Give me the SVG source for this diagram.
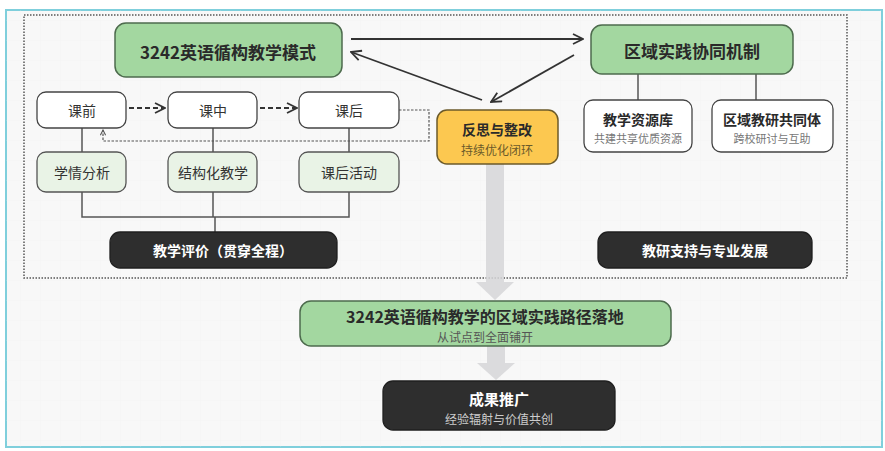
<svg xmlns="http://www.w3.org/2000/svg" width="885" height="451" viewBox="0 0 885 451">
<defs>
<pattern id="grid" width="20" height="20" patternUnits="userSpaceOnUse"><path d="M20 0H0V20" fill="none" stroke="#ececec" stroke-width="0.6"/></pattern>
<marker id="open" viewBox="0 0 12 12" refX="11" refY="6" markerWidth="12" markerHeight="12" markerUnits="userSpaceOnUse" orient="auto"><path d="M1 1L11 6L1 11" fill="none" stroke="#333" stroke-width="1.8"/></marker>
<marker id="small" viewBox="0 0 8 8" refX="7" refY="4" markerWidth="7" markerHeight="7" markerUnits="userSpaceOnUse" orient="auto"><path d="M1 1L7 4L1 7" fill="none" stroke="#555" stroke-width="1.2"/></marker>
</defs>
<style>
text{font-family:"Noto Sans CJK SC","Noto Sans",sans-serif;text-anchor:middle;dominant-baseline:central}
.green{fill:#a3d7a0;stroke:#4d6b4d;stroke-width:1.5}
.white{fill:#fff;stroke:#444;stroke-width:1.3}
.lg{fill:#e9f3e6;stroke:#555;stroke-width:1.3}
.dark{fill:#2e2e2e;stroke:#1f1f1f;stroke-width:1.3}
.yel{fill:#fcc850;stroke:#6b5a2a;stroke-width:1.5}
.t{font-size:14px;fill:#333}
.tb{font-size:14px;font-weight:bold;fill:#2a2a2a}
.tw{font-size:14px;font-weight:bold;fill:#fff}
.sub{font-size:11px;fill:#777}
.subw{font-size:12px;fill:#ccc}
.line{fill:none;stroke:#555;stroke-width:1.5}
.arr{fill:none;stroke:#333;stroke-width:1.8;marker-end:url(#open)}
</style>
<rect x="0" y="0" width="885" height="451" fill="#fff"/>
<rect x="6" y="10" width="876" height="437" fill="#f8f8f8" stroke="#7fcfdc" stroke-width="2"/>
<rect x="6" y="10" width="876" height="437" fill="url(#grid)" opacity="0.6"/>
<rect x="24" y="15" width="823" height="263" fill="none" stroke="#555" stroke-width="1.5" stroke-dasharray="1.5,1.5"/>

<g id="connectors">
<path d="M486 164V282H476L495 300L514 282H504V164Z" fill="#d6d6d8" opacity="0.85"/>
<path d="M487 346V363H477L496 380L515 363H505V346Z" fill="#d6d6d8" opacity="0.85"/>
<line x1="351" y1="39" x2="583" y2="39" class="arr"/>
<line x1="482" y1="100" x2="351" y2="52" class="arr"/>
<line x1="574" y1="55" x2="491" y2="102" class="arr"/>
<line x1="129" y1="108" x2="165" y2="108" class="arr" stroke-dasharray="5,3"/>
<line x1="260" y1="108" x2="297" y2="108" class="arr" stroke-dasharray="5,3"/>
<path d="M399 110H429V141H103V130" fill="none" stroke="#555" stroke-width="1.2" stroke-dasharray="2.5,1.5" marker-end="url(#small)"/>
<path d="M82 128V152M213 128V152M349 128V152" class="line"/>
<path d="M82 192V217H349V192M213 192V217M215 217V232" class="line"/>
<path d="M638 74V100M756 74V100" class="line"/>
</g>

<g id="n-model"><rect x="115" y="23" width="227" height="54" rx="11" class="green"/><text x="228" y="51" style="font-size:17px;font-weight:bold;fill:#2a2a2a">3242英语循构教学模式</text></g>
<g id="n-mech"><rect x="591" y="25" width="202" height="49" rx="11" class="green"/><text x="692" y="50" style="font-size:17px;font-weight:bold;fill:#2a2a2a">区域实践协同机制</text></g>
<g id="n-pre"><rect x="37" y="92" width="89" height="36" rx="9" class="white"/><text x="82" y="110" class="t">课前</text></g>
<g id="n-mid"><rect x="168" y="92" width="89" height="36" rx="9" class="white"/><text x="213" y="110" class="t">课中</text></g>
<g id="n-post"><rect x="299" y="92" width="100" height="36" rx="9" class="white"/><text x="349" y="110" class="t">课后</text></g>
<g id="n-analysis"><rect x="37" y="152" width="89" height="40" rx="9" class="lg"/><text x="82" y="172" class="t">学情分析</text></g>
<g id="n-struct"><rect x="168" y="152" width="89" height="40" rx="9" class="lg"/><text x="213" y="172" class="t">结构化教学</text></g>
<g id="n-act"><rect x="299" y="152" width="100" height="40" rx="9" class="lg"/><text x="349" y="172" class="t">课后活动</text></g>
<g id="n-eval"><rect x="110" y="232" width="227" height="36" rx="10" class="dark"/><text x="223" y="250" class="tw">教学评价（贯穿全程）</text></g>
<g id="n-reflect"><rect x="437" y="110" width="121" height="54" rx="10" class="yel"/><text x="497" y="129" class="tb">反思与整改</text><text x="497" y="149" class="sub" style="font-size:12px;fill:#6b5a2a">持续优化闭环</text></g>
<g id="n-res"><rect x="584" y="100" width="108" height="52" rx="9" class="white"/><text x="638" y="119" class="tb">教学资源库</text><text x="638" y="138" class="sub">共建共享优质资源</text></g>
<g id="n-comm"><rect x="712" y="100" width="121" height="52" rx="9" class="white"/><text x="772" y="119" class="tb">区域教研共同体</text><text x="772" y="138" class="sub">跨校研讨与互助</text></g>
<g id="n-support"><rect x="598" y="232" width="214" height="36" rx="10" class="dark"/><text x="705" y="250" class="tw">教研支持与专业发展</text></g>
<g id="n-land"><rect x="300" y="301" width="371" height="45" rx="11" class="green"/><text x="485" y="316" class="tb" style="font-size:16px">3242英语循构教学的区域实践路径落地</text><text x="485" y="336" class="sub" style="font-size:12px;fill:#555">从试点到全面铺开</text></g>
<g id="n-promo"><rect x="383" y="381" width="232" height="49" rx="10" class="dark"/><text x="499" y="398" class="tw" style="font-size:15px">成果推广</text><text x="499" y="418" class="subw">经验辐射与价值共创</text></g>
</svg>
